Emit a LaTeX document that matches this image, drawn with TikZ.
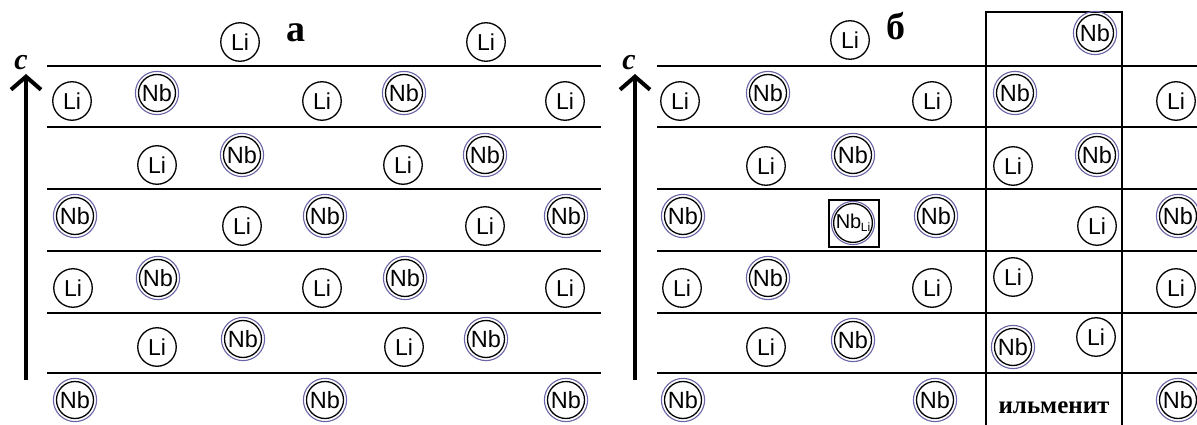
\documentclass[tikz,border=0pt]{standalone}
\usepackage{fontspec}
\setmainfont{Liberation Serif}
\newfontfamily\atomfont{Liberation Sans}
\usetikzlibrary{arrows.meta}
\definecolor{nbring}{RGB}{105,100,165}
\newcommand\nbat[3]{\node[nbatom] (#1) at (#2) {#3};\draw[nbouter] (#1.center) circle[radius=21.6pt];}
\newcommand\liat[2]{\node[liatom] (#1) at (#2) {Li};}
\begin{document}
\begin{tikzpicture}[x=1pt,y=-1pt,
  liatom/.style={circle,draw=black,line width=1.3pt,minimum size=38.5pt,inner sep=0pt,font=\atomfont\fontsize{23}{23}\selectfont},
  nbatom/.style={circle,draw=black,line width=1.3pt,minimum size=37pt,inner sep=0pt,font=\atomfont\fontsize{23.5}{23.5}\selectfont},
  nbouter/.style={draw=nbring,line width=1.1pt},
  layer/.style={line width=2pt},
  axis/.style={line width=4pt,-{Straight Barb[length=13pt,width=30pt,line width=4pt]}},
  panel/.style={font=\bfseries\fontsize{38}{38}\selectfont,anchor=base},
  axlabel/.style={font=\bfseries\itshape\fontsize{30}{30}\selectfont,anchor=base}]
\useasboundingbox (0,0) rectangle (1197,425);
% ---------- panel a ----------
\foreach \y [count=\i] in {66,127.5,189,251,312.5,373}{
  \coordinate (aL\i) at (47,\y); \coordinate (aR\i) at (601,\y);
  \draw[layer] (aL\i) -- (aR\i);}
\coordinate (aS) at (26,380); \coordinate (aE) at (26,74);
\draw[axis] (aS) -- (aE);
\node[axlabel] (ac) at (21,70) {c};
\node[panel] (pa) at (296,42) {а};
\liat{a01}{240,42} \liat{a02}{486,42}
\liat{a11}{72,101} \nbat{a12}{157,93}{Nb} \liat{a13}{322,101} \nbat{a14}{404,93}{Nb} \liat{a15}{565,101}
\liat{a21}{157,165} \nbat{a22}{242,155}{Nb} \liat{a23}{403,165} \nbat{a24}{485,155}{Nb}
\nbat{a31}{75,216}{Nb} \liat{a32}{242,226} \nbat{a33}{325,216}{Nb} \liat{a34}{485,226} \nbat{a35}{566,216}{Nb}
\liat{a41}{73,288} \nbat{a42}{158,278}{Nb} \liat{a43}{322,288} \nbat{a44}{405,278}{Nb} \liat{a45}{565,288}
\liat{a51}{157,347} \nbat{a52}{243,339}{Nb} \liat{a53}{404,347} \nbat{a54}{486,339}{Nb}
\nbat{a61}{75,400}{Nb} \nbat{a62}{325,400}{Nb} \nbat{a63}{566,400}{Nb}
% ---------- panel b ----------
\foreach \y [count=\i] in {66,127.5,189,251,312.5,373}{
  \coordinate (bL\i) at (657,\y); \coordinate (bR\i) at (1197,\y);
  \draw[layer] (bL\i) -- (bR\i);}
\coordinate (v1t) at (986,12); \coordinate (v1b) at (986,425);
\coordinate (v2t) at (1122,12); \coordinate (v2b) at (1122,425);
\draw[layer] (v1b) -- (v1t) -- (v2t) -- (v2b);
\coordinate (bS) at (635,380); \coordinate (bE) at (635,74);
\draw[axis] (bS) -- (bE);
\node[axlabel] (bc) at (629,70) {c};
\node[panel] (pb) at (896,40) {б};
\liat{b01}{850,40} \nbat{b02}{1095,33}{Nb}
\liat{b11}{680,101} \nbat{b12}{768,93}{Nb} \liat{b13}{932,101} \nbat{b14}{1015,93}{Nb} \liat{b15}{1176,101}
\liat{b21}{766,166} \nbat{b22}{853,155}{Nb} \liat{b23}{1013,166} \nbat{b24}{1097,155}{Nb}
\nbat{b31}{683,216}{Nb}
\nbat{b32}{853,223}{\fontsize{20}{20}\selectfont Nb\kern-0.5pt\raisebox{-3.5pt}{\fontsize{12}{12}\selectfont Li}}
\node[draw,line width=2pt,minimum width=50pt,minimum height=47pt,inner sep=0pt] (b32box) at (853.5,223.3) {};
\nbat{b33}{936,216}{Nb} \liat{b34}{1097,226} \nbat{b35}{1178,216}{Nb}
\liat{b41}{682,288} \nbat{b42}{768,278}{Nb} \liat{b43}{932,288} \liat{b44}{1013,277} \liat{b45}{1176,288}
\liat{b51}{766,347} \nbat{b52}{853,340}{Nb} \nbat{b53}{1013,347}{Nb} \liat{b54}{1096,337}
\nbat{b61}{683,400}{Nb} \nbat{b62}{935,400}{Nb} \nbat{b63}{1178,400}{Nb}
\node[anchor=base,font=\bfseries\fontsize{25}{25}\selectfont] (ilm) at (1054,413) {ильменит};
\end{tikzpicture}
\end{document}
